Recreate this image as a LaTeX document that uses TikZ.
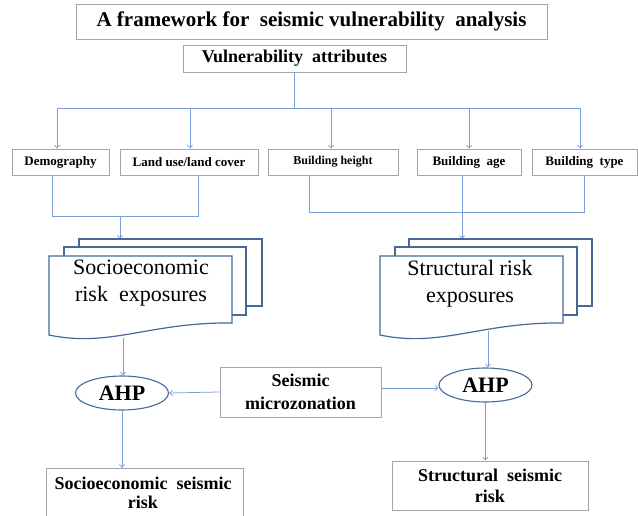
\documentclass[tikz,border=0pt]{standalone}
\usepackage{fontspec}
\setmainfont{Liberation Serif}
\usetikzlibrary{arrows.meta,shapes.geometric}
\definecolor{connblue}{RGB}{120,160,215}
\definecolor{boxgray}{RGB}{165,165,165}
\definecolor{docblue}{RGB}{70,105,155}
\newcommand\mydocshape[5]{% x1 y1 x2 yR yL
  \draw[docline] (#1,#2) -- (#3,#2) -- (#3,#4)
    .. controls ({#1+0.55*(#3-#1)},{#4-1}) and ({#1+0.333*(#3-#1)},{#5+13}) .. (#1,#5) -- cycle;}
\begin{document}
\begin{tikzpicture}[x=1pt,y=-1pt,
  box/.style={draw=boxgray, line width=0.8pt, inner sep=0pt, align=center},
  small/.style={box, minimum height=26pt, font=\fontsize{13}{15}\bfseries\selectfont},
  line/.style={draw=connblue, line width=0.75pt},
  conn/.style={line, -{Straight Barb[length=3pt,width=5pt]}},
  docline/.style={draw=docblue, line width=1.2pt, fill=white},
  ahp/.style={ellipse, draw=docblue, line width=1.1pt, fill=white, inner sep=0pt,
    minimum width=93pt, minimum height=34pt, font=\fontsize{22}{26}\bfseries\selectfont},
  doctext/.style={align=center, inner sep=0pt, font=\fontsize{22}{27}\selectfont}]
\useasboundingbox (0,0) rectangle (638,516);

% title and attributes
\node[box, minimum width=471pt, minimum height=35pt, font=\fontsize{21}{25}\bfseries\selectfont]
  (title) at (311.5,21.5) {A framework for\ \ seismic vulnerability\ \ analysis};
\node[box, minimum width=223pt, minimum height=27pt, font=\fontsize{18}{21}\bfseries\selectfont]
  (va) at (294.5,58.5) {Vulnerability\ \ attributes};

% attribute boxes
\node[small, minimum width=97pt] (demo) at (60.5,162) {Demography};
\node[small, minimum width=138pt] (land) at (189,162) {Land use/land cover};
\node[small, minimum width=130pt, font=\fontsize{12}{14}\bfseries\selectfont] (height) at (333,162) {Building height};
\node[small, minimum width=104pt] (age) at (469,162) {Building\ \ age};
\node[small, minimum width=105pt] (type) at (584.5,162) {Building\ \ type};

% tree from attributes
\coordinate (hl) at (294.5,108);
\draw[line] (va.south) -- (hl);
\draw[line] ([xshift=-3.5pt]demo.north |- hl) -- ([xshift=-4.5pt]type.north |- hl);
\draw[conn] ([xshift=-3.5pt]demo.north |- hl) -- ([xshift=-3.5pt]demo.north);
\draw[conn] ([xshift=1pt]land.north |- hl) -- ([xshift=1pt]land.north);
\draw[conn] ([xshift=-2pt]height.north |- hl) -- ([xshift=-2pt]height.north);
\draw[conn] (age.north |- hl) -- (age.north);
\draw[conn] ([xshift=-4.5pt]type.north |- hl) -- ([xshift=-4.5pt]type.north);

% joins
\coordinate (ljoin) at (120,216);
\coordinate (ltop) at (120,239);
\draw[line] ([xshift=-8.5pt]demo.south) -- ++(0,41) -| ([xshift=9pt]land.south);
\draw[conn] (ljoin) -- (ltop);
\coordinate (rjoin) at (462,212);
\coordinate (rtop) at (462,239);
\draw[line] ([xshift=-24pt]height.south) -- ++(0,37) -| ([xshift=-0.5pt]type.south);
\draw[line] ([xshift=-7pt]age.south) -- (rjoin);
\draw[conn] (rjoin) -- (rtop);

% document stacks
\draw[docline] (79,239) rectangle (262,306);
\draw[docline] (64,247) rectangle (246,315);
\mydocshape{49}{256}{232}{323}{335}
\node[doctext] (sdoc) at (141,283.5) {Socioeconomic\\ risk\ \ exposures};
\draw[docline] (409,239) rectangle (592,306);
\draw[docline] (395,247) rectangle (577,315);
\mydocshape{380}{256}{563}{323}{335}
\node[doctext] (rdoc) at (470,283.5) {Structural risk\\ exposures};

% AHP
\node[ahp] (lAHP) at (122,393) {AHP};
\node[ahp] (rAHP) at (485.5,385) {AHP};
\coordinate (sdocbot) at (123,338);
\coordinate (rdocbot) at (488,331);
\draw[conn] (sdocbot) -- (sdocbot |- lAHP.north);
\draw[conn] (rdocbot) -- (rdocbot |- rAHP.north);

% microzonation
\node[box, minimum width=161pt, minimum height=50pt, font=\fontsize{18}{23}\bfseries\selectfont]
  (mz) at (300.5,392) {Seismic\\microzonation};
\draw[conn] (mz.west) -- (lAHP.east);
\draw[conn] ([yshift=4pt]mz.east) -- ([yshift=-3pt]rAHP.west);

% outputs
\begin{scope}
\clip (0,0) rectangle (638,516);
\node[box, minimum width=197pt, minimum height=62pt, anchor=north] (sbox) at (144.5,468) {};
\end{scope}
\node[align=center, inner sep=0pt, font=\fontsize{18}{19}\bfseries\selectfont]
  (stext) at (143,492.5) {Socioeconomic\ \ seismic\\ risk};
\node[box, minimum width=196pt, minimum height=49pt, font=\fontsize{18}{21}\bfseries\selectfont]
  (rbox) at (490,485.5) {Structural\ \ seismic\\ risk};
\draw[conn] (lAHP.south) -- (lAHP.south |- sbox.north);
\draw[conn] (rAHP.south) -- (rAHP.south |- rbox.north);
\end{tikzpicture}
\end{document}
